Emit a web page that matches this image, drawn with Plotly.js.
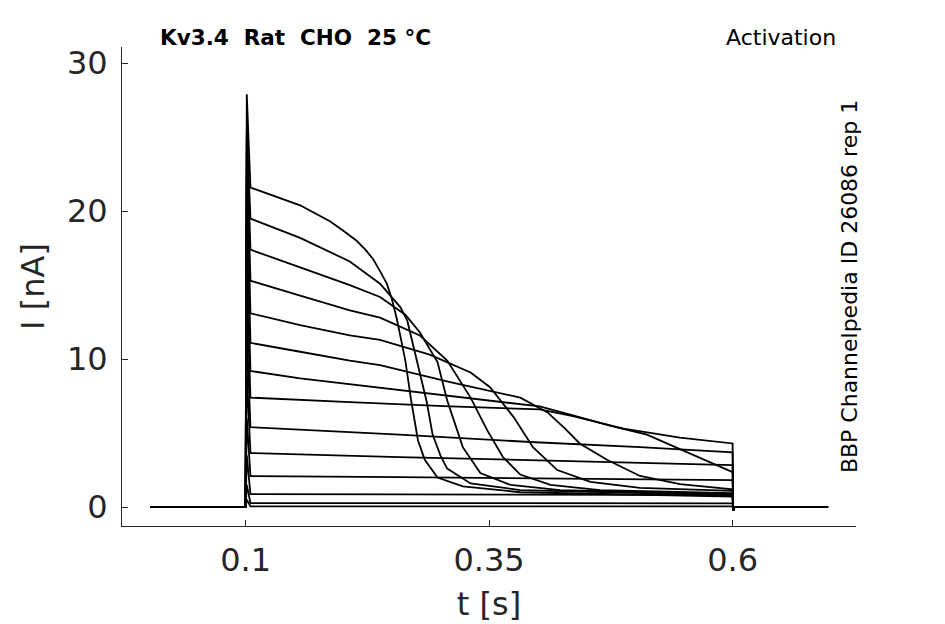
<!DOCTYPE html>
<html>
<head>
<meta charset="utf-8">
<script src="https://cdn.plot.ly/plotly-3.0.1.min.js"></script>
<style>
  html, body { margin: 0; padding: 0; background: #fff; }
  #plot { width: 945px; height: 624px; }
</style>
</head>
<body>
<div id="plot"></div>
<script>
// voltage step protocol [s]
var stepOn = 0.1;
var stepOff = 0.6;
var tStop = 0.7;

// capacitive spike peak of each sweep [nA]
var peaks = [27.9, 25.5, 25.0, 24.0, 22.5, 20.5, 18.0, 15.0, 12.0, 9.0, 6.0, 3.5, 1.5, 0.5];

// sweeps, largest first (t [s], I [nA])
var t1 = [0.105, 0.156, 0.187, 0.200, 0.214, 0.223, 0.231, 0.238, 0.245, 0.250, 0.255, 0.260, 0.264, 0.270, 0.277, 0.284, 0.297, 0.323, 0.382, 0.6];
var i1 = [21.6, 20.4, 19.3, 18.7, 18.0, 17.4, 16.75, 15.95, 15.1, 14.1, 12.8, 11.2, 9.9, 7.2, 4.5, 3.2, 2.0, 1.4, 1.0, 0.7];

var t2 = [0.105, 0.156, 0.207, 0.238, 0.259, 0.266, 0.272, 0.279, 0.286, 0.292, 0.300, 0.307, 0.331, 0.382, 0.6];
var i2 = [19.5, 18.2, 16.6, 15.1, 13.5, 12.6, 10.9, 8.9, 7.1, 4.9, 3.5, 2.6, 1.6, 1.15, 0.8];

var t3 = [0.105, 0.156, 0.207, 0.238, 0.264, 0.279, 0.297, 0.307, 0.323, 0.341, 0.372, 0.423, 0.6];
var i3 = [17.4, 16.2, 15.0, 14.2, 13.0, 11.8, 9.8, 7.2, 4.05, 2.3, 1.5, 1.15, 0.88];

var t4 = [0.105, 0.156, 0.207, 0.238, 0.279, 0.307, 0.331, 0.348, 0.364, 0.382, 0.413, 0.464, 0.6];
var i4 = [15.3, 14.3, 13.3, 12.8, 11.6, 9.9, 7.4, 5.2, 3.4, 2.2, 1.5, 1.15, 0.95];

var t5 = [0.105, 0.156, 0.207, 0.238, 0.289, 0.331, 0.351, 0.375, 0.395, 0.420, 0.454, 0.505, 0.6];
var i5 = [13.1, 12.3, 11.6, 11.3, 10.3, 9.1, 8.1, 6.1, 4.05, 2.5, 1.7, 1.3, 1.1];

var t6 = [0.105, 0.156, 0.207, 0.238, 0.310, 0.382, 0.410, 0.428, 0.443, 0.471, 0.505, 0.546, 0.6];
var i6 = [11.1, 10.5, 9.9, 9.6, 8.45, 7.4, 6.4, 5.3, 4.3, 3.2, 2.1, 1.55, 1.2];

var t7 = [0.105, 0.156, 0.207, 0.238, 0.310, 0.402, 0.436, 0.474, 0.512, 0.553, 0.6];
var i7 = [9.2, 8.7, 8.3, 8.1, 7.5, 6.8, 6.2, 5.5, 4.9, 3.7, 2.36];

var t8 = [0.105, 0.207, 0.310, 0.402, 0.436, 0.488, 0.546, 0.6];
var i8 = [7.4, 7.1, 6.8, 6.6, 6.15, 5.3, 4.7, 4.3];

var t9 = [0.105, 0.258, 0.392, 0.505, 0.6];
var i9 = [5.4, 4.9, 4.4, 4.05, 3.7];

var tSmall = [0.105, 0.258, 0.392, 0.6];
var i10 = [3.65, 3.38, 3.18, 2.84];
var i11 = [2.09, 2.03, 1.96, 1.82];
var i12 = [0.88, 0.86, 0.83, 0.81];
var i13 = [0.27, 0.27, 0.26, 0.25];
var i14 = [0.05, 0.05, 0.05, 0.04];

var sweepT = [t1, t2, t3, t4, t5, t6, t7, t8, t9, tSmall, tSmall, tSmall, tSmall, tSmall];
var sweepI = [i1, i2, i3, i4, i5, i6, i7, i8, i9, i10, i11, i12, i13, i14];

var traces = [];
for (var k = 0; k < sweepT.length; k++) {
  var x = [0.002, stepOn, stepOn + 0.0012].concat(sweepT[k], [stepOff + 0.0006, stepOff + 0.002, tStop - 0.002]);
  var y = [0, 0, peaks[k]].concat(sweepI[k], [-0.25, 0, 0]);
  traces.push({
    x: x,
    y: y,
    type: 'scatter',
    mode: 'lines',
    line: {color: '#000000', width: 1.8},
    hoverinfo: 'skip'
  });
}

var axisFont = {family: 'DejaVu Sans, sans-serif', size: 32, color: '#262626'};

var layout = {
  width: 945,
  height: 624,
  margin: {l: 122, r: 89, t: 47, b: 98},
  paper_bgcolor: '#ffffff',
  plot_bgcolor: '#ffffff',
  showlegend: false,
  xaxis: {
    range: [-0.0269, 0.7267],
    tickvals: [0.1, 0.35, 0.6],
    ticktext: ['0.1', '0.35', '0.6'],
    ticks: 'inside',
    ticklen: 6,
    tickcolor: '#262626',
    ticklabelstandoff: 6,
    showline: true,
    linecolor: '#262626',
    linewidth: 1,
    showgrid: false,
    zeroline: false,
    tickfont: axisFont,
    title: {text: 't [s]', font: axisFont, standoff: 14}
  },
  yaxis: {
    range: [-1.28, 31.1],
    tickvals: [0, 10, 20, 30],
    ticks: 'inside',
    ticklen: 6,
    tickcolor: '#262626',
    ticklabelstandoff: 7,
    showline: true,
    linecolor: '#262626',
    linewidth: 1,
    showgrid: false,
    zeroline: false,
    tickfont: axisFont,
    title: {text: 'I [nA]', font: axisFont, standoff: 12}
  },
  annotations: [
    {
      text: 'Kv3.4\u00a0\u00a0Rat\u00a0\u00a0CHO\u00a0\u00a025\u00a0°C',
      xref: 'paper', yref: 'paper',
      x: 0.049, y: 1.0, xanchor: 'left', yanchor: 'bottom', yshift: -5,
      showarrow: false,
      font: {family: 'DejaVu Sans, sans-serif', size: 21.5, color: '#000000', weight: 'bold'}
    },
    {
      text: 'Activation',
      xref: 'paper', yref: 'paper',
      x: 0.9755, y: 1.0, xanchor: 'right', yanchor: 'bottom', yshift: -5,
      showarrow: false,
      font: {family: 'DejaVu Sans, sans-serif', size: 22, color: '#000000'}
    },
    {
      text: 'BBP Channelpedia ID 26086 rep 1',
      xref: 'paper', yref: 'paper',
      x: 0.992, y: 0.499, xanchor: 'center', yanchor: 'middle',
      textangle: -90,
      showarrow: false,
      font: {family: 'DejaVu Sans, sans-serif', size: 22, color: '#000000'}
    }
  ]
};

Plotly.newPlot('plot', traces, layout, {displayModeBar: false, staticPlot: true});
</script>
</body>
</html>
